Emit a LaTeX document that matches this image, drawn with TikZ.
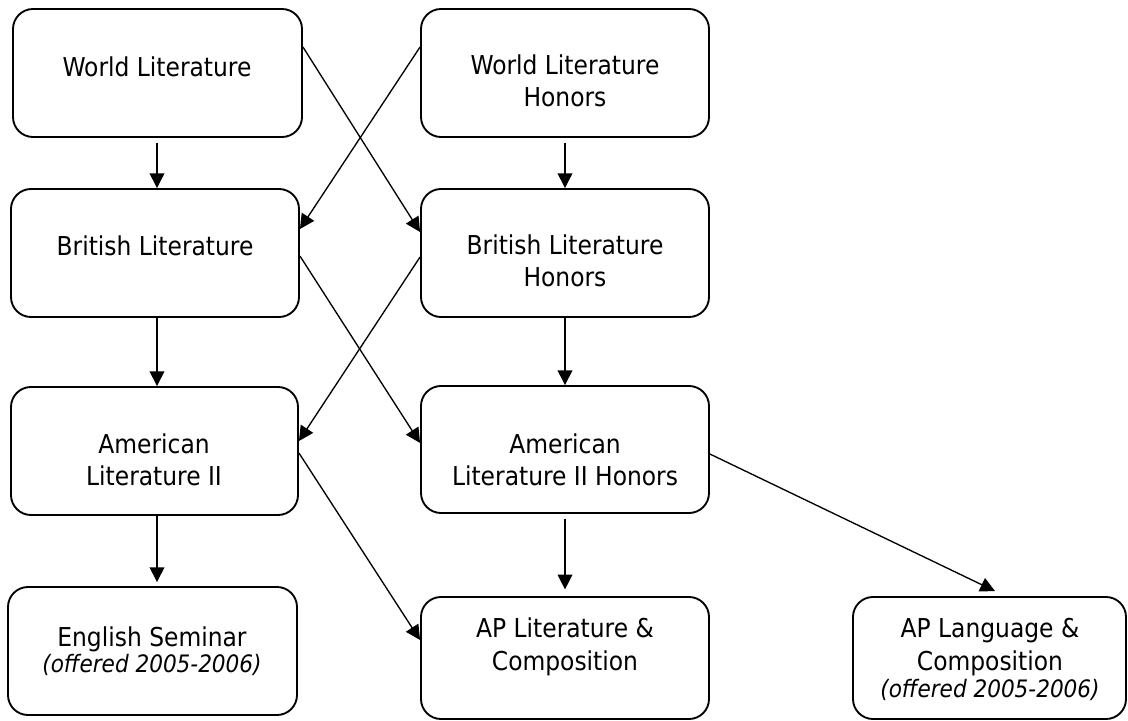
\documentclass[tikz,border=0pt]{standalone}
\usepackage{fontspec}
\setmainfont{DejaVu Sans Condensed}
\usetikzlibrary{arrows.meta}
\tikzset{
  box/.style={draw, line width=1.4pt, rounded corners=15pt, inner sep=0pt},
  lbl/.style={anchor=base, align=center, inner sep=0pt, font=\fontsize{19.5}{24}\selectfont},
  arr/.style={line width=1pt, -{Triangle[length=11pt,width=11pt]}},
}
\newcommand{\offr}{{\fontsize{18}{20}\selectfont\itshape (offered 2005-2006)}}
\begin{document}
\begin{tikzpicture}[x=0.75pt,y=-0.75pt]
\useasboundingbox (0,0) rectangle (1128,721);
% boxes
\node[box, minimum width=216.75pt, minimum height=96pt] (wl)  at (157.5,73) {};
\node[box, minimum width=216pt,    minimum height=96pt] (wlh) at (565,73) {};
\node[box, minimum width=216pt,    minimum height=96pt] (bl)  at (155,253) {};
\node[box, minimum width=216pt,    minimum height=96pt] (blh) at (565,253) {};
\node[box, minimum width=215.25pt, minimum height=96pt] (al)  at (154.5,451) {};
\node[box, minimum width=216pt,    minimum height=95.25pt] (alh) at (565,449.5) {};
\node[box, minimum width=216.75pt, minimum height=96pt] (es)  at (152.5,651) {};
\node[box, minimum width=216pt,    minimum height=91.5pt] (apl) at (565,658) {};
\node[box, minimum width=204.75pt, minimum height=91.5pt] (apg) at (989.5,658) {};
% labels (anchor base = baseline of the last line)
\node[lbl] (twl)  at (157,76)  {World Literature};
\node[lbl] (twlh) at (565,106) {World Literature\\Honors};
\node[lbl] (tbl)  at (155,255) {British Literature};
\node[lbl] (tblh) at (565,286) {British Literature\\Honors};
\node[lbl] (tal)  at (154,485) {American\\Literature II};
\node[lbl] (talh) at (565,485) {American\\Literature II Honors};
\node[lbl] (tes)  at (152,672) {English Seminar\\[-4.5pt]\offr};
\node[lbl] (tapl) at (565,670) {AP Literature \&\\[0.75pt]Composition};
\node[lbl] (tapg) at (990,697) {AP Language \&\\[0.75pt]Composition\\[-3.75pt]\offr};
% vertical arrows
\coordinate (cl) at (157,0);
\draw[arr, shorten <=3.5pt] (wl.south -| cl) -- (bl.north -| cl);
\draw[arr, shorten <=3.5pt] (wlh.south) -- (blh.north);
\draw[arr] (bl.south -| cl) -- (al.north -| cl);
\draw[arr] (blh.south) -- (alh.north);
\draw[arr] (al.south -| cl) -- ([yshift=3pt]es.north -| cl);
\draw[arr, shorten <=3.5pt] (alh.south) -- ([yshift=5pt]apl.north);
% diagonal arrows
\draw[arr] ([yshift=19.5pt]wl.east) -- ([yshift=15.75pt]blh.west);
\draw[arr] ([yshift=19.5pt]wlh.west) -- ([yshift=18pt]bl.east);
\draw[arr] ([yshift=-2.25pt]bl.east) -- ([yshift=4.9pt]alh.west);
\draw[arr] ([yshift=-3pt]blh.west) -- ([yshift=7.5pt]al.east);
\draw[arr] ([yshift=-1.5pt]al.east) -- ([yshift=13.5pt]apl.west);
\draw[arr] ([yshift=-3.4pt]alh.east) -- ([xshift=4.1pt,yshift=3.75pt]apg.north);
\end{tikzpicture}
\end{document}
